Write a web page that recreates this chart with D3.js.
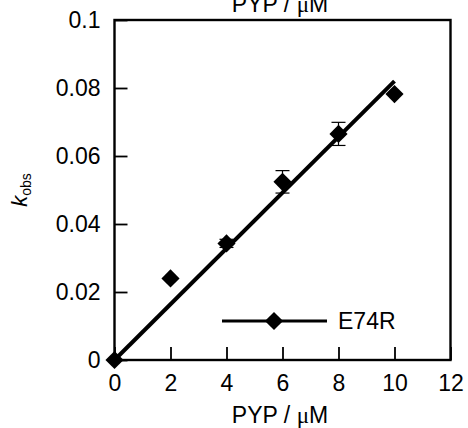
<!DOCTYPE html>
<html>
<head>
<meta charset="utf-8">
<script src="https://cdn.jsdelivr.net/npm/d3@7"></script>
<style>
  body { margin: 0; background: #fff; }
  svg { display: block; font-family: "Liberation Sans", Arial, sans-serif; }
</style>
</head>
<body>
<svg id="chart" width="468" height="428"></svg>
<script>
// PYP concentration (µM) and observed rate constants for E74R
const pyp = [0, 2, 4, 6, 8, 10];
const kobs = [0, 0.024, 0.0343, 0.0524, 0.0665, 0.0782];
const kobsErr = [0, 0, 0.0012, 0.0033, 0.0034, 0];
// linear fit through the origin
const fitX = [0, 10];
const fitSlope = 0.0082;
const xTicks = [0, 2, 4, 6, 8, 10, 12];
const yTicks = [0, 0.02, 0.04, 0.06, 0.08, 0.1];
const seriesName = "E74R";

const FONT = "Liberation Sans, Arial, sans-serif";
const svg = d3.select("#chart");
const x = d3.scaleLinear().domain([0, 12]).range([114.5, 450.5]);
const y = d3.scaleLinear().domain([0, 0.1]).range([360, 20]);

// plot frame
svg.append("rect")
  .attr("x", x(0)).attr("y", y(0.1))
  .attr("width", x(12) - x(0)).attr("height", y(0) - y(0.1))
  .attr("fill", "none").attr("stroke", "#000").attr("stroke-width", 2.4);

// x axis, inward ticks
const xAxis = svg.append("g").attr("transform", `translate(0,${y(0)})`)
  .call(d3.axisBottom(x).tickValues(xTicks).tickSizeInner(-13).tickSizeOuter(0).tickPadding(15)
    .tickFormat(d3.format("d")));
xAxis.select(".domain").remove();
xAxis.selectAll("line").attr("stroke-width", 1.8);
xAxis.selectAll("text").attr("font-size", 23).attr("fill", "#000").attr("font-family", FONT);

// y axis, inward ticks
const yAxis = svg.append("g").attr("transform", `translate(${x(0)},0)`)
  .call(d3.axisLeft(y).tickValues(yTicks).tickSizeInner(-13).tickSizeOuter(0).tickPadding(14)
    .tickFormat(d => d === 0 ? "0" : String(+d.toFixed(2))));
yAxis.select(".domain").remove();
yAxis.selectAll("line").attr("stroke-width", 1.8);
yAxis.selectAll("text").attr("font-size", 23).attr("fill", "#000").attr("font-family", FONT);

// fit line
svg.append("line")
  .attr("x1", x(fitX[0])).attr("y1", y(fitSlope * fitX[0]))
  .attr("x2", x(fitX[1])).attr("y2", y(fitSlope * fitX[1]))
  .attr("stroke", "#000").attr("stroke-width", 4);

// error bars
const pts = pyp.map((v, i) => ({ x: v, y: kobs[i], e: kobsErr[i] }));
const eb = svg.append("g").selectAll("g").data(pts.filter(d => d.e > 0)).join("g");
eb.append("line")
  .attr("x1", d => x(d.x)).attr("x2", d => x(d.x))
  .attr("y1", d => y(d.y - d.e)).attr("y2", d => y(d.y + d.e))
  .attr("stroke", "#000").attr("stroke-width", 1.2);
[-1, 1].forEach(s => {
  eb.append("line")
    .attr("x1", d => x(d.x) - 7).attr("x2", d => x(d.x) + 7)
    .attr("y1", d => y(d.y + s * d.e)).attr("y2", d => y(d.y + s * d.e))
    .attr("stroke", "#000").attr("stroke-width", 1.2);
});

// diamond markers
const diamond = d3.symbol().type(d3.symbolSquare).size(165);
svg.append("g").selectAll("path").data(pts).join("path")
  .attr("d", diamond)
  .attr("transform", d => `translate(${x(d.x)},${y(d.y)}) rotate(45)`)
  .attr("fill", "#000");

// legend
const lg = svg.append("g");
lg.append("line").attr("x1", 222).attr("x2", 327).attr("y1", 321).attr("y2", 321)
  .attr("stroke", "#000").attr("stroke-width", 3);
lg.append("path").attr("d", diamond).attr("transform", "translate(274,321) rotate(45)").attr("fill", "#000");
lg.append("text").attr("x", 338).attr("y", 329).attr("font-size", 23).text(seriesName);

// axis titles: "PYP / μM" with a serif Greek mu
function unitTitle(sel) {
  sel.append("tspan").text("PYP / ");
  sel.append("tspan").attr("font-family", "Liberation Serif, serif").text("μ");
  sel.append("tspan").text("M");
}
svg.append("text").attr("x", 280).attr("y", 423).attr("text-anchor", "middle")
  .attr("font-size", 23).call(unitTitle);
svg.append("text").attr("x", 280).attr("y", 12).attr("text-anchor", "middle")
  .attr("font-size", 23).call(unitTitle);

const yl = svg.append("text")
  .attr("transform", "translate(27,190) rotate(-90)")
  .attr("text-anchor", "middle").attr("font-size", 22);
yl.append("tspan").attr("font-style", "italic").text("k");
yl.append("tspan").attr("font-size", 14).attr("dy", 4).text("obs");
</script>
</body>
</html>
